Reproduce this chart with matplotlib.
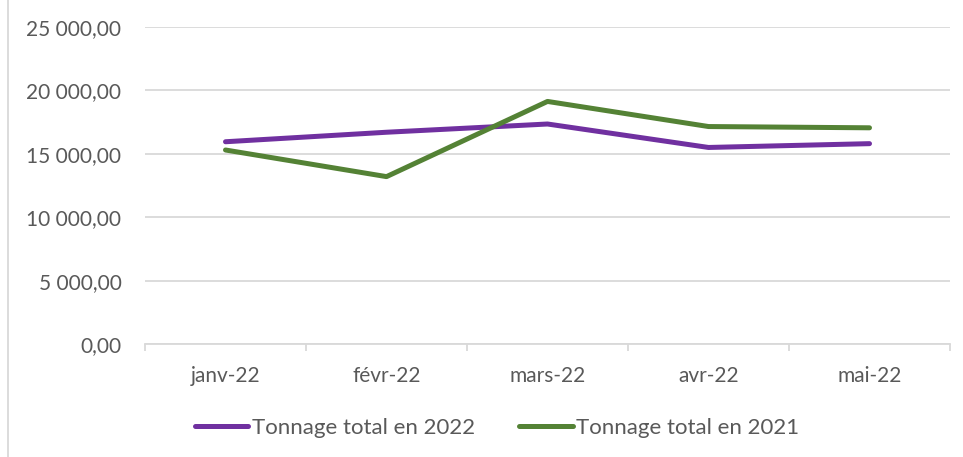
import matplotlib
matplotlib.use("Agg")
import matplotlib.pyplot as plt
from matplotlib.ticker import FuncFormatter, FixedLocator
from matplotlib.lines import Line2D

# data
months = ["janv-22", "févr-22", "mars-22", "avr-22", "mai-22"]
tonnage_2022 = [15950, 16700, 17350, 15500, 15800]
tonnage_2021 = [15300, 13200, 19130, 17150, 17050]

PURPLE = "#7030A0"
GREEN = "#548235"
GRID = "#d9d9d9"
TEXT = "#595959"

plt.rcParams['font.family'] = ['Lato', 'DejaVu Sans']

fig = plt.figure(figsize=(9.63, 4.57), dpi=100)
ax = fig.add_axes([145 / 963, 113 / 457, 805 / 963, 317 / 457])

x = list(range(len(months)))
ax.plot(x, tonnage_2022, color=PURPLE, lw=3.6, solid_capstyle="round",
        solid_joinstyle="round", label="Tonnage total en 2022", zorder=3)
ax.plot(x, tonnage_2021, color=GREEN, lw=3.6, solid_capstyle="round",
        solid_joinstyle="round", label="Tonnage total en 2021", zorder=3)

ax.set_xlim(-0.5, len(months) - 0.5)
ax.set_ylim(0, 25000)
ax.set_yticks(range(0, 25001, 5000))


def fr_fmt(v, pos):
    return f"{v:,.2f}".replace(",", " ").replace(".", ",")


ax.yaxis.set_major_formatter(FuncFormatter(fr_fmt))
ax.grid(axis="y", color=GRID, lw=1.3, zorder=0)

ax.set_xticks(x)
ax.set_xticklabels(months)
ax.xaxis.set_minor_locator(FixedLocator([i - 0.5 for i in range(len(months) + 1)]))
ax.tick_params(axis="x", which="major", length=0, pad=16, labelsize=15, colors=TEXT)
ax.tick_params(axis="x", which="minor", length=5, width=1.3, color=GRID, direction="out")
ax.tick_params(axis="y", length=0, pad=17, labelsize=15, colors=TEXT)

for side in ["top", "right", "left"]:
    ax.spines[side].set_visible(False)
ax.spines["bottom"].set_color(GRID)
ax.spines["bottom"].set_linewidth(1.3)

leg = fig.legend(loc="center", bbox_to_anchor=(497 / 963, 1 - 428 / 457), ncol=2,
                 frameon=False, fontsize=16, handlelength=2.4, handletextpad=0.15,
                 columnspacing=2.0, labelcolor=TEXT)

# left chart border
fig.add_artist(Line2D([8 / 963, 8 / 963], [0, 1], color=GRID, lw=1.3))

fig.savefig("out.png", dpi=100)
